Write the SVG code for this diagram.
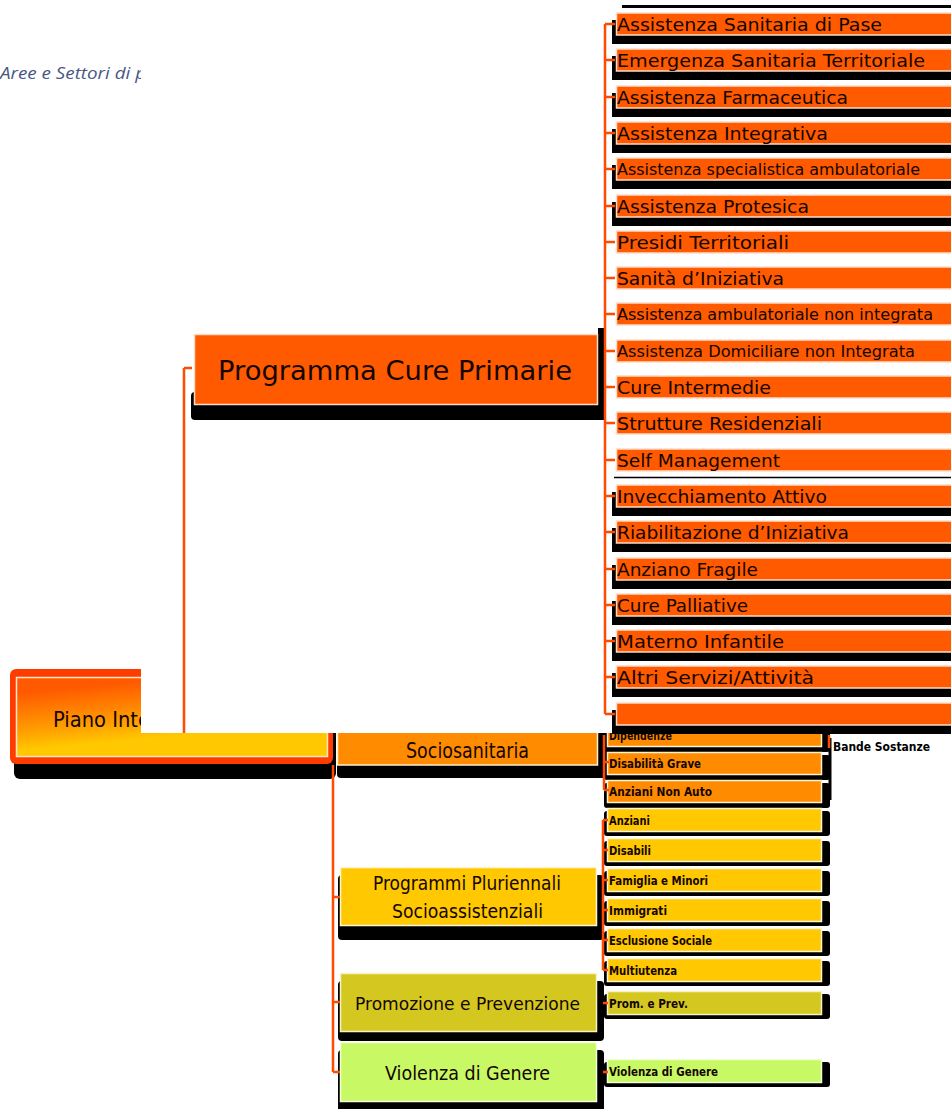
<svg xmlns="http://www.w3.org/2000/svg" xmlns:xlink="http://www.w3.org/1999/xlink" width="951" height="1109" viewBox="0 0 951 1109">
<style>
.txt{font-family:"DejaVu Sans","Liberation Sans",sans-serif;fill:#140600}
.big{font-size:18px}
.sm{font-size:15px}
.lo{font-size:11.5px;font-weight:bold}
.mid{font-size:20px}
.ov{fill:#ff5a00;stroke:#ffdcc8;stroke-width:1.5}
.c1{fill:#ff8c00;stroke:#fff0d0;stroke-width:1.5}
.c2{fill:#ffc800;stroke:#fff6d8;stroke-width:1.5}
.c3{fill:#d4c820;stroke:#f6f2c8;stroke-width:1.5}
.c4{fill:#c8f864;stroke:#f0ffd8;stroke-width:1.5}
.con{fill:none;stroke:#ff4a00;stroke-width:2.5}
.sh{fill:#000}
</style>
<defs>
<linearGradient id="gPiano" x1="0" y1="0.2" x2="0.3" y2="1">
<stop offset="0" stop-color="#ff5a00"/>
<stop offset="0.55" stop-color="#ffa000"/>
<stop offset="0.8" stop-color="#ffc800"/>
<stop offset="1" stop-color="#ffc800"/>
</linearGradient>
<linearGradient id="gShPiano" x1="0" y1="0" x2="0" y2="1">
<stop offset="0" stop-color="#a02800"/>
<stop offset="0.5" stop-color="#000"/>
<stop offset="1" stop-color="#000"/>
</linearGradient>
<rect id="shOv" x="612" y="7" width="345" height="24" class="sh"/>
<rect id="shLo" x="604" y="3" width="226" height="25" rx="3" class="sh"/>
</defs>
<rect width="951" height="1109" fill="#fff"/>

<text x="0" y="79" font-family="'Open Sans','Noto Sans',sans-serif" font-style="italic" font-size="16.5" fill="#4a5684" textLength="146" lengthAdjust="spacingAndGlyphs">Aree e Settori di p</text>

<!-- underlying diagram -->
<g id="piano">
<rect x="14" y="700" width="322" height="79" rx="6" fill="url(#gShPiano)"/>
<rect x="10" y="669" width="323" height="95" rx="6" fill="#ff3c00"/>
<rect x="16.5" y="677.5" width="311" height="79" fill="url(#gPiano)" stroke="#ffe6c8" stroke-width="1.5"/>
<text class="txt" x="53" y="727" font-size="22" textLength="97" lengthAdjust="spacingAndGlyphs">Piano Inte</text>
</g>

<g id="sociosanitaria">
<rect x="337" y="710" width="270" height="68" rx="4" class="sh"/>
<rect x="337.5" y="700" width="260" height="65" class="c1"/>
<text class="txt" x="406" y="758" font-size="21" textLength="123" lengthAdjust="spacingAndGlyphs">Sociosanitaria</text>
</g>

<g id="programmi-pluriennali">
<rect x="338" y="875" width="266" height="65" rx="4" class="sh"/>
<rect x="340.5" y="867.5" width="256" height="58" class="c2"/>
<text class="txt mid" x="373" y="890" textLength="188" lengthAdjust="spacingAndGlyphs">Programmi Pluriennali</text>
<text class="txt mid" x="392" y="918" textLength="151" lengthAdjust="spacingAndGlyphs">Socioassistenziali</text>
</g>

<g id="promozione">
<rect x="338" y="981" width="266" height="60" rx="4" class="sh"/>
<rect x="340.5" y="973.5" width="256" height="58" class="c3"/>
<text class="txt" x="355" y="1010" font-size="18.5" textLength="225" lengthAdjust="spacingAndGlyphs">Promozione e Prevenzione</text>
</g>

<g id="violenza">
<rect x="338" y="1050" width="266" height="62" rx="4" class="sh"/>
<rect x="340.5" y="1042.5" width="256" height="59" class="c4"/>
<text class="txt mid" x="385" y="1080" textLength="165" lengthAdjust="spacingAndGlyphs">Violenza di Genere</text>
</g>

<g id="dipendenze"><use href="#shLo" y="724"/><rect x="607.5" y="724.5" width="214" height="22" class="c1"/><text class="txt lo" x="609" y="740" textLength="63" lengthAdjust="spacingAndGlyphs">Dipendenze</text></g>
<g id="disabilita-grave"><use href="#shLo" y="752"/><rect x="607.5" y="752.5" width="214" height="22" class="c1"/><text class="txt lo" x="609" y="768" textLength="92" lengthAdjust="spacingAndGlyphs">Disabilità Grave</text></g>
<g id="anziani-non-auto"><use href="#shLo" y="780"/><rect x="607.5" y="780.5" width="214" height="22" class="c1"/><text class="txt lo" x="609" y="796" textLength="103" lengthAdjust="spacingAndGlyphs">Anziani Non Auto</text></g>
<g id="anziani"><use href="#shLo" y="808"/><rect x="607.5" y="808.5" width="214" height="23" class="c2"/><text class="txt lo" x="609" y="825" textLength="41" lengthAdjust="spacingAndGlyphs">Anziani</text></g>
<g id="disabili"><use href="#shLo" y="838"/><rect x="607.5" y="838.5" width="214" height="23" class="c2"/><text class="txt lo" x="609" y="855" textLength="42" lengthAdjust="spacingAndGlyphs">Disabili</text></g>
<g id="famiglia"><use href="#shLo" y="868"/><rect x="607.5" y="868.5" width="214" height="23" class="c2"/><text class="txt lo" x="609" y="885" textLength="99" lengthAdjust="spacingAndGlyphs">Famiglia e Minori</text></g>
<g id="immigrati"><use href="#shLo" y="898"/><rect x="607.5" y="898.5" width="214" height="23" class="c2"/><text class="txt lo" x="609" y="915" textLength="58" lengthAdjust="spacingAndGlyphs">Immigrati</text></g>
<g id="esclusione"><use href="#shLo" y="928"/><rect x="607.5" y="928.5" width="214" height="23" class="c2"/><text class="txt lo" x="609" y="945" textLength="103" lengthAdjust="spacingAndGlyphs">Esclusione Sociale</text></g>
<g id="multiutenza"><use href="#shLo" y="958"/><rect x="607.5" y="958.5" width="214" height="23" class="c2"/><text class="txt lo" x="609" y="975" textLength="68" lengthAdjust="spacingAndGlyphs">Multiutenza</text></g>
<g id="prom-prev"><use href="#shLo" y="991"/><rect x="607.5" y="991.5" width="214" height="23" class="c3"/><text class="txt lo" x="609" y="1008" textLength="79" lengthAdjust="spacingAndGlyphs">Prom. e Prev.</text></g>
<g id="violenza-small"><use href="#shLo" y="1059"/><rect x="607.5" y="1059.5" width="214" height="23" class="c4"/><text class="txt lo" x="609" y="1076" textLength="109" lengthAdjust="spacingAndGlyphs">Violenza di Genere</text></g>

<g id="bande-sostanze"><text x="833" y="751" font-family="'DejaVu Sans',sans-serif" font-weight="bold" font-size="12" fill="#000" textLength="97" lengthAdjust="spacingAndGlyphs">Bande Sostanze</text></g>

<g id="connectors-lower">
<path class="con" d="M333 765V1072M333 897h7M333 1002h7M333 1072h7"/>
<path class="con" d="M604 735V790M604 762h5M604 790h5"/>
<path class="con" d="M603 820V970M603 820h5M603 850h5M603 880h5M603 910h5M603 940h5M603 970h5M603 1003h5M603 1072h5"/>
<path d="M830 738V800" stroke="#000" stroke-width="3" fill="none"/>
<path d="M829 735V748" stroke="#ff4a00" stroke-width="2.5" fill="none"/>
</g>

<!-- overlay image -->
<rect x="141" y="0" width="810" height="733" fill="#fff"/>
<path d="M622 6.5H951" stroke="#000" stroke-width="3"/>
<path d="M614 477.5H951" stroke="#000" stroke-width="1.5"/>

<g id="programma-cure-primarie">
<rect x="191" y="392" width="415" height="28" rx="4" class="sh"/>
<rect x="598" y="328" width="8" height="92" class="sh"/>
<rect x="194.5" y="334.5" width="403" height="70" class="ov"/>
<text class="txt" x="218" y="380" font-size="27" textLength="354" lengthAdjust="spacingAndGlyphs">Programma Cure Primarie</text>
</g>

<g id="n01"><use href="#shOv" y="13"/><rect x="616.5" y="13" width="340" height="22" class="ov"/><text class="txt big" x="617" y="31" textLength="265" lengthAdjust="spacingAndGlyphs">Assistenza Sanitaria di Pase</text></g>
<g id="n02"><use href="#shOv" y="49"/><rect x="616.5" y="49" width="340" height="22" class="ov"/><text class="txt big" x="617" y="67" textLength="308" lengthAdjust="spacingAndGlyphs">Emergenza Sanitaria Territoriale</text></g>
<g id="n03"><use href="#shOv" y="86"/><rect x="616.5" y="86" width="340" height="22" class="ov"/><text class="txt big" x="617" y="104" textLength="231" lengthAdjust="spacingAndGlyphs">Assistenza Farmaceutica</text></g>
<g id="n04"><use href="#shOv" y="122"/><rect x="616.5" y="122" width="340" height="22" class="ov"/><text class="txt big" x="617" y="140" textLength="211" lengthAdjust="spacingAndGlyphs">Assistenza Integrativa</text></g>
<g id="n05"><use href="#shOv" y="158"/><rect x="616.5" y="158" width="340" height="22" class="ov"/><text class="txt sm" x="617" y="175" textLength="303" lengthAdjust="spacingAndGlyphs">Assistenza specialistica ambulatoriale</text></g>
<g id="n06"><use href="#shOv" y="195"/><rect x="616.5" y="195" width="340" height="22" class="ov"/><text class="txt big" x="617" y="213" textLength="192" lengthAdjust="spacingAndGlyphs">Assistenza Protesica</text></g>
<g id="n07"><rect x="616.5" y="231" width="340" height="22" class="ov"/><text class="txt big" x="617" y="249" textLength="172" lengthAdjust="spacingAndGlyphs">Presidi Territoriali</text></g>
<g id="n08"><rect x="616.5" y="267" width="340" height="22" class="ov"/><text class="txt big" x="617" y="285" textLength="167" lengthAdjust="spacingAndGlyphs">Sanità d’Iniziativa</text></g>
<g id="n09"><rect x="616.5" y="303" width="340" height="22" class="ov"/><text class="txt sm" x="617" y="320" textLength="316" lengthAdjust="spacingAndGlyphs">Assistenza ambulatoriale non integrata</text></g>
<g id="n10"><rect x="616.5" y="340" width="340" height="22" class="ov"/><text class="txt sm" x="617" y="357" textLength="298" lengthAdjust="spacingAndGlyphs">Assistenza Domiciliare non Integrata</text></g>
<g id="n11"><rect x="616.5" y="376" width="340" height="22" class="ov"/><text class="txt big" x="617" y="394" textLength="154" lengthAdjust="spacingAndGlyphs">Cure Intermedie</text></g>
<g id="n12"><rect x="616.5" y="412" width="340" height="22" class="ov"/><text class="txt big" x="617" y="430" textLength="205" lengthAdjust="spacingAndGlyphs">Strutture Residenziali</text></g>
<g id="n13"><rect x="616.5" y="449" width="340" height="22" class="ov"/><text class="txt big" x="617" y="467" textLength="163" lengthAdjust="spacingAndGlyphs">Self Management</text></g>
<g id="n14"><use href="#shOv" y="485"/><rect x="616.5" y="485" width="340" height="22" class="ov"/><text class="txt big" x="617" y="503" textLength="210" lengthAdjust="spacingAndGlyphs">Invecchiamento Attivo</text></g>
<g id="n15"><use href="#shOv" y="521"/><rect x="616.5" y="521" width="340" height="22" class="ov"/><text class="txt big" x="617" y="539" textLength="232" lengthAdjust="spacingAndGlyphs">Riabilitazione d’Iniziativa</text></g>
<g id="n16"><use href="#shOv" y="558"/><rect x="616.5" y="558" width="340" height="22" class="ov"/><text class="txt big" x="617" y="576" textLength="141" lengthAdjust="spacingAndGlyphs">Anziano Fragile</text></g>
<g id="n17"><use href="#shOv" y="594"/><rect x="616.5" y="594" width="340" height="22" class="ov"/><text class="txt big" x="617" y="612" textLength="131" lengthAdjust="spacingAndGlyphs">Cure Palliative</text></g>
<g id="n18"><use href="#shOv" y="630"/><rect x="616.5" y="630" width="340" height="22" class="ov"/><text class="txt big" x="617" y="648" textLength="167" lengthAdjust="spacingAndGlyphs">Materno Infantile</text></g>
<g id="n19"><use href="#shOv" y="666"/><rect x="616.5" y="666" width="340" height="22" class="ov"/><text class="txt big" x="617" y="684" textLength="197" lengthAdjust="spacingAndGlyphs">Altri Servizi/Attività</text></g>
<g id="n20"><use href="#shOv" y="703"/><rect x="616.5" y="703" width="340" height="22" class="ov"/></g>

<g id="connectors-overlay">
<path class="con" d="M184 368V733M184 368h8"/>
<path class="con" d="M605 24V714M605 24h10M605 60h10M605 97h10M605 133h10M605 169h10M605 206h10M605 242h10M605 278h10M605 314h10M605 351h10M605 387h10M605 423h10M605 460h10M605 496h10M605 532h10M605 569h10M605 605h10M605 641h10M605 677h10M605 714h10"/>
</g>
</svg>
